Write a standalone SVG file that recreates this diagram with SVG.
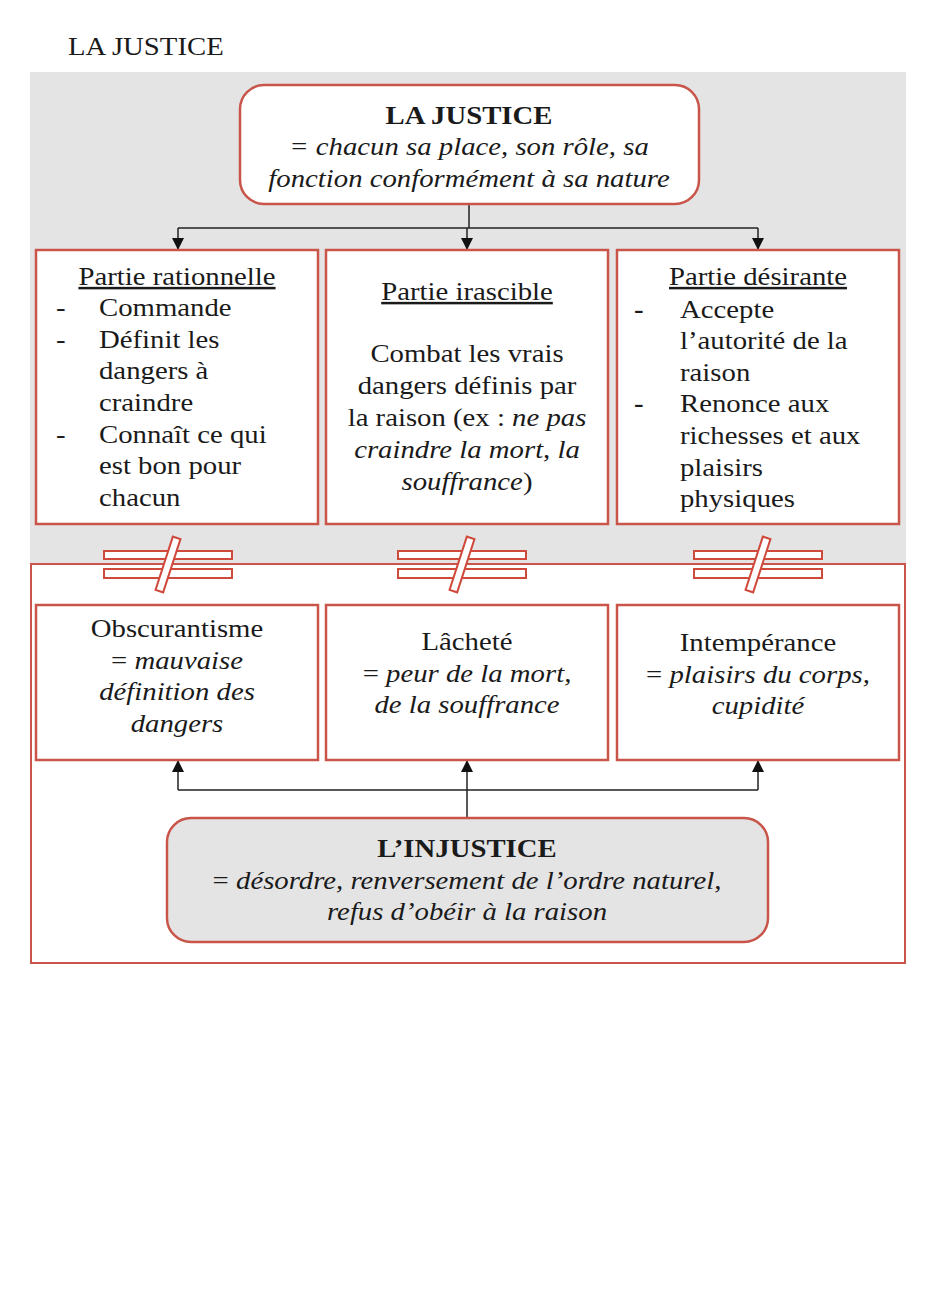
<svg xmlns="http://www.w3.org/2000/svg" width="936" height="1297" viewBox="0 0 936 1297">
<style>
.t{font-family:"Liberation Serif","Times New Roman",serif;font-size:25px;fill:#1a1a1a}
.c{text-anchor:middle}
.b{font-weight:bold}
.i{font-style:italic}
.u{text-decoration:underline}
.box{fill:#fff;stroke:#c9544a;stroke-width:2.5}
.rbox{stroke:#c9544a;stroke-width:2.5}
.ln{fill:none;stroke:#222;stroke-width:1.5}
.ne{fill:#fff;stroke:#d04a3c;stroke-width:2}
</style>
<defs>
<marker id="ah" viewBox="0 0 10 10" refX="10" refY="5" markerWidth="12" markerHeight="12" markerUnits="userSpaceOnUse" orient="auto">
<path d="M0,0 L10,5 L0,10 Z" fill="#111"/>
</marker>
<g id="neq">
<rect class="ne" x="-64" y="-13.5" width="128" height="8"/>
<rect class="ne" x="-64" y="4.5" width="128" height="9"/>
<rect class="ne" x="-4" y="-28" width="8" height="56" transform="rotate(18)"/>
</g>
</defs>
<rect width="936" height="1297" fill="#fff"/>
<text class="t" transform="translate(68,55) scale(1.15,1)">LA JUSTICE</text>
<rect x="30" y="72" width="876" height="492" fill="#e4e4e4"/>
<rect x="31" y="564" width="874" height="399" fill="#fff" stroke="#c9544a" stroke-width="2"/>

<g id="connectors">
<path class="ln" d="M469,204 V228 M178,228 H758"/>
<path class="ln" d="M178,228 V250" marker-end="url(#ah)"/>
<path class="ln" d="M467,228 V250" marker-end="url(#ah)"/>
<path class="ln" d="M758,228 V250" marker-end="url(#ah)"/>
<path class="ln" d="M467,818 V790 M178,790 H758"/>
<path class="ln" d="M178,790 V760" marker-end="url(#ah)"/>
<path class="ln" d="M467,790 V760" marker-end="url(#ah)"/>
<path class="ln" d="M758,790 V760" marker-end="url(#ah)"/>
</g>

<g id="justice">
<rect class="box" x="240" y="85" width="459" height="119" rx="24"/>
<text class="t c b" transform="translate(469,124) scale(1.15,1)">LA JUSTICE</text>
<text class="t c i" transform="translate(469,155) scale(1.15,1)"><tspan x="0">= chacun sa place, son rôle, sa</tspan><tspan x="0" dy="32">fonction conformément à sa nature</tspan></text>
</g>

<g id="rationnelle">
<rect class="box" x="36" y="250" width="282" height="274"/>
<text class="t c u" transform="translate(177,285) scale(1.15,1)">Partie rationnelle</text>
<text class="t" transform="translate(56,316) scale(1.15,1)"><tspan x="0">-</tspan><tspan x="0" dy="32">-</tspan><tspan x="0" dy="95">-</tspan></text>
<text class="t" transform="translate(99,316) scale(1.15,1)"><tspan x="0">Commande</tspan><tspan x="0" dy="32">Définit les</tspan><tspan x="0" dy="31.5">dangers à</tspan><tspan x="0" dy="31.5">craindre</tspan><tspan x="0" dy="32">Connaît ce qui</tspan><tspan x="0" dy="31.5">est bon pour</tspan><tspan x="0" dy="31.5">chacun</tspan></text>
</g>

<g id="irascible">
<rect class="box" x="326" y="250" width="282" height="274"/>
<text class="t c u" transform="translate(467,300) scale(1.15,1)">Partie irascible</text>
<text class="t c" transform="translate(467,362) scale(1.15,1)"><tspan x="0">Combat les vrais</tspan><tspan x="0" dy="32">dangers définis par</tspan><tspan x="0" dy="32.5">la raison (ex : <tspan class="i">ne pas</tspan></tspan><tspan x="0" dy="31.5" class="i">craindre la mort, la</tspan><tspan x="0" dy="32"><tspan class="i">souffrance</tspan>)</tspan></text>
</g>

<g id="desirante">
<rect class="box" x="617" y="250" width="282" height="274"/>
<text class="t c u" transform="translate(758,285) scale(1.15,1)">Partie désirante</text>
<text class="t b" transform="translate(634,318) scale(1.15,1)"><tspan x="0">-</tspan><tspan x="0" dy="94">-</tspan></text>
<text class="t" transform="translate(680,318) scale(1.15,1)"><tspan x="0">Accepte</tspan><tspan x="0" dy="31">l’autorité de la</tspan><tspan x="0" dy="32">raison</tspan><tspan x="0" dy="31">Renonce aux</tspan><tspan x="0" dy="32">richesses et aux</tspan><tspan x="0" dy="32">plaisirs</tspan><tspan x="0" dy="31">physiques</tspan></text>
</g>

<g id="neq1"><use href="#neq" x="168" y="564.5"/></g>
<g id="neq2"><use href="#neq" x="462" y="564.5"/></g>
<g id="neq3"><use href="#neq" x="758" y="564.5"/></g>

<g id="obscurantisme">
<rect class="box" x="36" y="605" width="282" height="155"/>
<text class="t c" transform="translate(177,637) scale(1.15,1)">Obscurantisme</text>
<text class="t c" transform="translate(177,669) scale(1.15,1)"><tspan x="0">= <tspan class="i">mauvaise</tspan></tspan><tspan x="0" dy="31" class="i">définition des</tspan><tspan x="0" dy="32" class="i">dangers</tspan></text>
</g>

<g id="lachete">
<rect class="box" x="326" y="605" width="282" height="155"/>
<text class="t c" transform="translate(467,650) scale(1.15,1)">Lâcheté</text>
<text class="t c" transform="translate(467,682) scale(1.15,1)"><tspan x="0">= <tspan class="i">peur de la mort,</tspan></tspan><tspan x="0" dy="31" class="i">de la souffrance</tspan></text>
</g>

<g id="intemperance">
<rect class="box" x="617" y="605" width="282" height="155"/>
<text class="t c" transform="translate(758,651) scale(1.15,1)">Intempérance</text>
<text class="t c" transform="translate(758,683) scale(1.15,1)"><tspan x="0">= <tspan class="i">plaisirs du corps,</tspan></tspan><tspan x="0" dy="31" class="i">cupidité</tspan></text>
</g>

<g id="injustice">
<rect class="rbox" x="167" y="818" width="601" height="124" rx="24" fill="#e4e4e4"/>
<text class="t c b" transform="translate(467,857) scale(1.15,1)">L’INJUSTICE</text>
<text class="t c" transform="translate(467,889) scale(1.15,1)"><tspan x="0">= <tspan class="i">désordre, renversement de l’ordre naturel,</tspan></tspan><tspan x="0" dy="31" class="i">refus d’obéir à la raison</tspan></text>
</g>
</svg>
